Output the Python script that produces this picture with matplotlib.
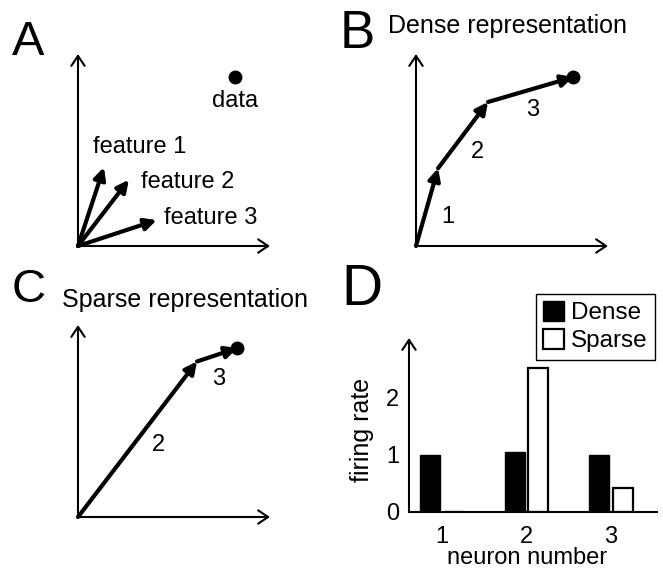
import numpy as np
import matplotlib
matplotlib.use("Agg")
import matplotlib.pyplot as plt
from matplotlib.patches import Patch

plt.rcParams['font.family'] = ['Liberation Sans', 'DejaVu Sans']

# Data (panel units: each vector panel spans 0..10 on both axes)
feature_names = ['feature 1', 'feature 2', 'feature 3']
feature_x = [1.35, 2.65, 4.1]
feature_y = [4.1, 3.45, 1.35]
data_xy = (8.2, 8.8)

# path of summed vectors, dense and sparse
dense_path_x = [0.0, 1.15, 3.75, 8.2]
dense_path_y = [0.0, 4.05, 7.5, 8.8]
dense_step_labels = ['1', '2', '3']
dense_label_x = [1.65, 3.2, 6.05]
dense_label_y = [1.5, 4.9, 7.1]

sparse_path_x = [0.0, 6.2, 8.3]
sparse_path_y = [0.0, 8.1, 8.8]
sparse_step_labels = ['2', '3']
sparse_label_x = [4.2, 7.35]
sparse_label_y = [3.75, 7.2]

# firing rates
neurons = [1, 2, 3]
dense_rate = [1.0, 1.05, 1.0]
sparse_rate = [0.0, 2.52, 0.42]

W, H = 663, 568
fig = plt.figure(figsize=(W / 100, H / 100), dpi=100)


def fx(x):
    return x / W


def fy(y):
    return 1 - y / H


def vec_axes(ox, oy, size=192):
    ax = fig.add_axes([fx(ox), fy(oy), size / W, size / H])
    ax.set_xlim(0, 10)
    ax.set_ylim(0, 10)
    ax.axis('off')
    axis_style = dict(arrowstyle='->,head_length=0.45,head_width=0.3', lw=1.5,
                      color='k', mutation_scale=16, shrinkA=0, shrinkB=0)
    ax.annotate('', xy=(10, 0), xytext=(0, 0), arrowprops=axis_style, annotation_clip=False)
    ax.annotate('', xy=(0, 10), xytext=(0, 0), arrowprops=axis_style, annotation_clip=False)
    return ax


vec_style = dict(arrowstyle='-|>,head_length=0.5,head_width=0.25', lw=3.0,
                 color='k', mutation_scale=14, shrinkA=0, shrinkB=0)
FS = 17

# A: features
axA = vec_axes(78, 246)
for name, x, y in zip(feature_names, feature_x, feature_y):
    axA.annotate('', xy=(x, y), xytext=(0, 0), arrowprops=vec_style)
axA.plot(*data_xy, 'o', color='k', ms=9, clip_on=False)
axA.text(data_xy[0], data_xy[1] - 0.7, 'data', fontsize=FS, ha='center', va='top')
axA.text(0.8, 5.15, 'feature 1', fontsize=FS, ha='left', va='center')
axA.text(3.3, 3.35, 'feature 2', fontsize=FS, ha='left', va='center')
axA.text(4.5, 1.45, 'feature 3', fontsize=FS, ha='left', va='center')

# B: dense representation
axB = vec_axes(416, 246)
for i in range(len(dense_path_x) - 1):
    axB.annotate('', xy=(dense_path_x[i + 1], dense_path_y[i + 1]),
                 xytext=(dense_path_x[i], dense_path_y[i]), arrowprops=vec_style)
axB.plot(dense_path_x[-1], dense_path_y[-1], 'o', color='k', ms=9, clip_on=False)
for lab, x, y in zip(dense_step_labels, dense_label_x, dense_label_y):
    axB.text(x, y, lab, fontsize=FS, ha='center', va='center')

# C: sparse representation
axC = vec_axes(78, 517)
for i in range(len(sparse_path_x) - 1):
    axC.annotate('', xy=(sparse_path_x[i + 1], sparse_path_y[i + 1]),
                 xytext=(sparse_path_x[i], sparse_path_y[i]), arrowprops=vec_style)
axC.plot(sparse_path_x[-1], sparse_path_y[-1], 'o', color='k', ms=9, clip_on=False)
for lab, x, y in zip(sparse_step_labels, sparse_label_x, sparse_label_y):
    axC.text(x, y, lab, fontsize=FS, ha='center', va='center')

# D: firing rates
axD = fig.add_axes([fx(409), fy(512), 248 / W, 174 / H])
pos = np.array(neurons, dtype=float)
bw = 0.237
axD.bar(pos - 0.14, dense_rate, bw, color='k', edgecolor='k', lw=1.0)
axD.bar(pos + 0.14, sparse_rate, bw, color='white', edgecolor='k', lw=1.6)
axD.set_xlim(0.61, 3.545)
axD.set_ylim(0, 3.05)
for s in ['top', 'right', 'left']:
    axD.spines[s].set_visible(False)
axD.spines['bottom'].set_linewidth(1.5)
axD.annotate('', xy=(0, 1), xytext=(0, 0), xycoords='axes fraction',
             arrowprops=dict(arrowstyle='->,head_length=0.45,head_width=0.3', lw=1.5,
                             color='k', mutation_scale=16, shrinkA=0, shrinkB=0),
             annotation_clip=False)
axD.set_xticks(neurons)
axD.set_yticks([0, 1, 2])
axD.tick_params(axis='both', length=0, labelsize=FS)
axD.tick_params(axis='x', pad=10)
axD.tick_params(axis='y', pad=7)
axD.set_xlabel('neuron number', fontsize=FS)
axD.xaxis.set_label_coords(0.476, -0.2)
axD.set_ylabel('firing rate', fontsize=18)
axD.yaxis.set_label_coords(-0.14, 0.47)

handles = [Patch(facecolor='k', edgecolor='k', lw=1.0),
           Patch(facecolor='white', edgecolor='k', lw=1.6)]
leg = axD.legend(handles, ['Dense', 'Sparse'], loc='upper right',
                 bbox_to_anchor=(fx(655), fy(294)), bbox_transform=fig.transFigure,
                 fontsize=17.5, frameon=True, fancybox=False, framealpha=1,
                 edgecolor='k', handlelength=0.85, handleheight=0.85,
                 handletextpad=0.3, borderpad=0.3, labelspacing=0.2,
                 borderaxespad=0)
leg.get_frame().set_linewidth(1.0)

# titles and panel letters
fig.text(fx(388), fy(33), 'Dense representation', fontsize=18, va='baseline')
fig.text(fx(62), fy(307), 'Sparse representation', fontsize=18, va='baseline')
fig.text(fx(12), fy(55), 'A', fontsize=35, va='baseline')
fig.text(fx(340), fy(48), 'B', fontsize=38, va='baseline')
fig.text(fx(12), fy(302), 'C', fontsize=34, va='baseline')
fig.text(fx(341), fy(305), 'D', fontsize=41, va='baseline')

fig.savefig('out.png', dpi=100)
